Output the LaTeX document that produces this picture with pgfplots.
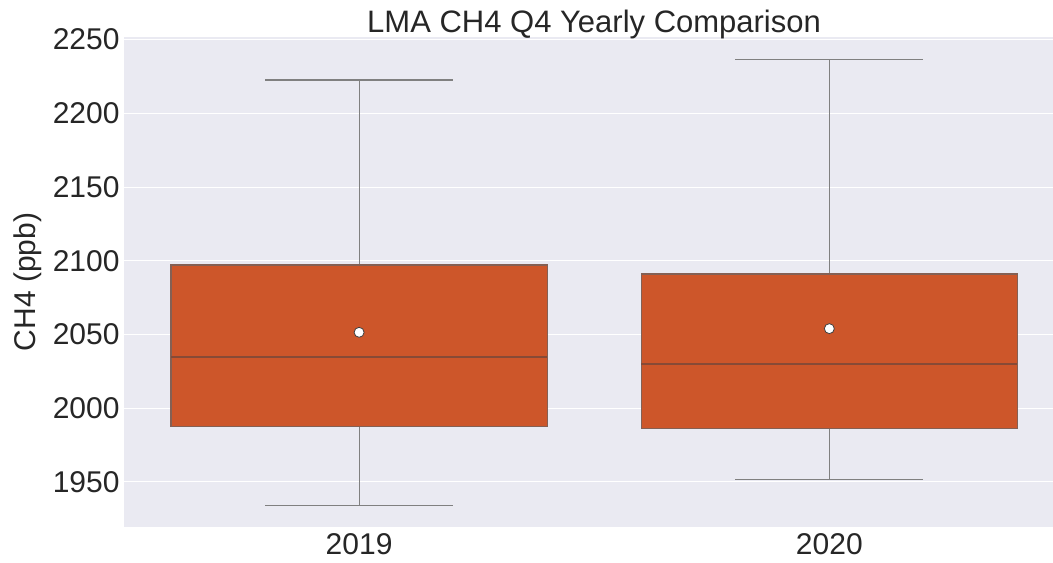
\documentclass[border=0pt]{standalone}
\usepackage{fontspec}
\setmainfont{Liberation Sans}
\usepackage{pgfplots}
\pgfplotsset{compat=1.18}
\definecolor{axbg}{HTML}{EAEAF2}
\definecolor{boxfill}{RGB}{205,86,42}
\definecolor{whisk}{RGB}{128,128,128}
\definecolor{med}{RGB}{135,74,54}
\begin{document}
\begin{tikzpicture}
\path[use as bounding box] (-62pt,-17.65pt) rectangle (464.5pt,263.35pt);
\begin{axis}[
  at={(0pt,0pt)}, anchor=south west,
  scale only axis, width=464.5pt, height=244.7pt,
  xmin=-0.5, xmax=1.4757, ymin=1919.5, ymax=2251.6,
  xtick={0,1}, xticklabels={2019,2020},
  ytick={1950,2000,...,2250},
  ymajorgrids, grid style={white, line width=0.5pt},
  axis line style={draw=none}, major tick length=0pt,
  axis background/.style={fill=axbg},
  tick label style={font=\fontsize{15}{18}\selectfont, text=black!85},
  yticklabel style={xshift=1.3pt},
  /pgf/number format/assume math mode=true,
  /pgf/number format/1000 sep={},
  ylabel={CH4 (ppb)},
  every axis y label/.style={at={(axis description cs:-0.0958,0.5)}, rotate=90, anchor=base, font=\fontsize{15}{18}\selectfont, text=black!85},
  title={LMA CH4 Q4 Yearly Comparison},
  title style={at={(axis description cs:0.506,1)}, anchor=base, yshift=-3.5pt, font=\fontsize{15.5}{18}\selectfont, text=black!85},
]
% 2019
\addplot[draw=whisk, line width=0.6pt, mark=none] coordinates {(0,2097.1) (0,2222.6)};
\addplot[draw=whisk, line width=0.6pt, mark=none] coordinates {(0,1987.3) (0,1933.7)};
\addplot[draw=whisk, line width=0.6pt, mark=none] coordinates {(-0.2,2222.6) (0.2,2222.6)};
\addplot[draw=whisk, line width=0.6pt, mark=none] coordinates {(-0.2,1933.7) (0.2,1933.7)};
\addplot[draw=med!60!whisk, fill=boxfill, line width=0.6pt, mark=none] coordinates {(-0.4,1987.3) (0.4,1987.3) (0.4,2097.1) (-0.4,2097.1)} --cycle;
\addplot[draw=med, line width=0.8pt, mark=none] coordinates {(-0.4,2034.5) (0.4,2034.5)};
% 2020
\addplot[draw=whisk, line width=0.6pt, mark=none] coordinates {(1,2091.0) (1,2236.6)};
\addplot[draw=whisk, line width=0.6pt, mark=none] coordinates {(1,1986.3) (1,1951.7)};
\addplot[draw=whisk, line width=0.6pt, mark=none] coordinates {(0.8,2236.6) (1.2,2236.6)};
\addplot[draw=whisk, line width=0.6pt, mark=none] coordinates {(0.8,1951.7) (1.2,1951.7)};
\addplot[draw=med!60!whisk, fill=boxfill, line width=0.6pt, mark=none] coordinates {(0.6,1986.3) (1.4,1986.3) (1.4,2091.0) (0.6,2091.0)} --cycle;
\addplot[draw=med, line width=0.8pt, mark=none] coordinates {(0.6,2030.1) (1.4,2030.1)};
% means
\addplot[only marks, mark=*, mark size=2.5pt, mark options={fill=white, draw=black!75, line width=0.4pt}] coordinates {(0,2051.4) (1,2053.9)};
\end{axis}
\end{tikzpicture}
\end{document}
